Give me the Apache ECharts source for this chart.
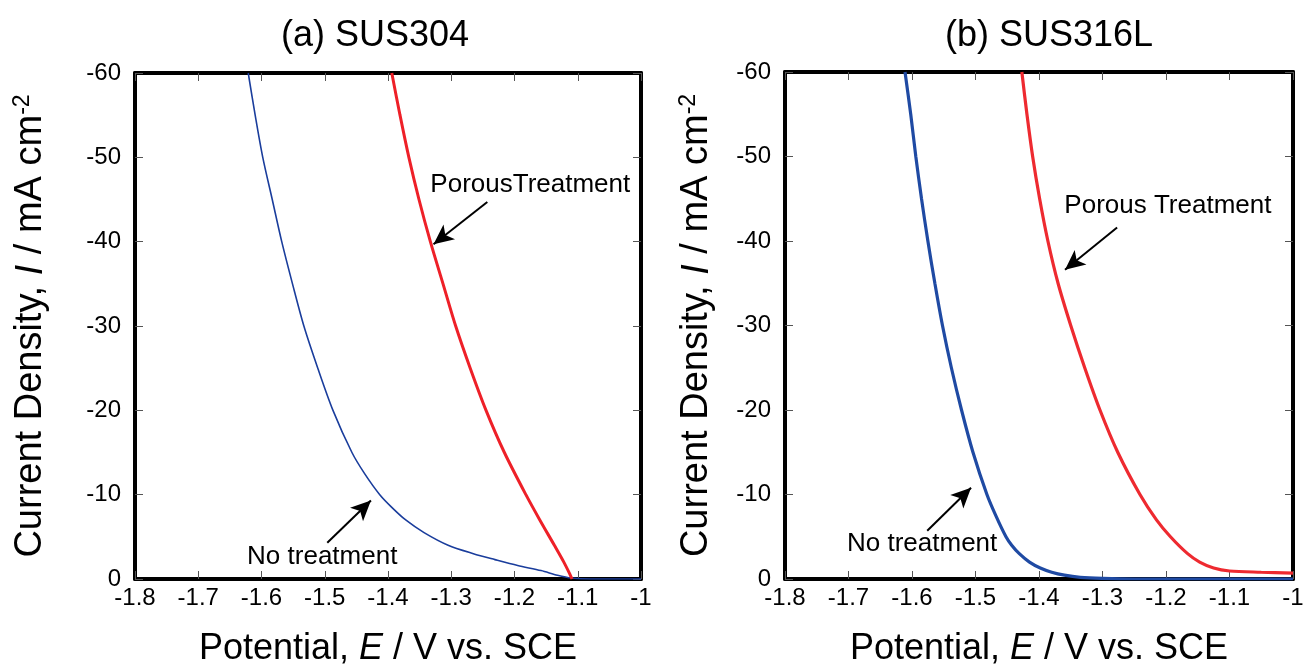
<!DOCTYPE html>
<html>
<head>
<meta charset="utf-8">
<script src="https://cdn.jsdelivr.net/npm/echarts@6/dist/echarts.min.js"></script>
<style>
  html, body { margin: 0; padding: 0; background: #fff; }
  #chart { width: 1311px; height: 668px; }
</style>
</head>
<body>
<div id="chart"></div>
<script>
// Polarization curves: [potential (V vs. SCE), current density (mA cm^-2)]
const panelTitles = ['(a) SUS304', '(b) SUS316L'];
const seriesNames = ['No treatment', 'Porous Treatment'];

// (a) SUS304
const sus304NoTreatment = [
  [-1.621, -60], [-1.610, -55], [-1.598, -50], [-1.583, -45], [-1.568, -40],
  [-1.551, -35], [-1.533, -30], [-1.511, -25], [-1.487, -20], [-1.457, -15],
  [-1.437, -12.5], [-1.413, -10], [-1.394, -8.5], [-1.372, -7], [-1.343, -5.5],
  [-1.305, -4], [-1.265, -3], [-1.231, -2.3], [-1.195, -1.6], [-1.158, -1.0],
  [-1.132, -0.45], [-1.110, -0.12], [-1.080, 0], [-1.000, 0]
];
const sus304Porous = [
  [-1.394, -60], [-1.381, -55], [-1.367, -50], [-1.351, -45], [-1.333, -40],
  [-1.313, -35], [-1.293, -30], [-1.270, -25], [-1.245, -20], [-1.216, -15],
  [-1.182, -10], [-1.160, -7], [-1.137, -4], [-1.122, -2], [-1.112, -0.5],
  [-1.109, 0]
];

// (b) SUS316L
const sus316lNoTreatment = [
  [-1.611, -60], [-1.602, -55], [-1.594, -50], [-1.585, -45], [-1.575, -40],
  [-1.564, -35], [-1.552, -30], [-1.538, -25], [-1.522, -20], [-1.504, -15],
  [-1.482, -10], [-1.468, -7.5], [-1.452, -5], [-1.443, -4], [-1.431, -3],
  [-1.415, -2], [-1.398, -1.3], [-1.380, -0.8], [-1.360, -0.45], [-1.335, -0.2],
  [-1.300, -0.07], [-1.250, 0], [-1.000, 0]
];
const sus316lPorous = [
  [-1.427, -60], [-1.419, -55], [-1.410, -50], [-1.399, -45], [-1.386, -40],
  [-1.370, -35], [-1.350, -30], [-1.328, -25], [-1.304, -20], [-1.276, -15],
  [-1.241, -10], [-1.215, -7], [-1.193, -5], [-1.166, -3], [-1.147, -2],
  [-1.125, -1.3], [-1.100, -0.95], [-1.050, -0.8], [-1.000, -0.7]
];

// Axis ranges and ticks
const potentialRange = [-1.8, -1.0];
const potentialStep = 0.1;
const currentRange = [-60, 0];
const currentStep = 10;

// Annotation arrows: [tail, head] in data coordinates, plus label anchor
const annotations = [
  { panel: 0, text: 'No treatment', label: [-1.504, -2.6], tail: [-1.496, -4.3], head: [-1.427, -9.3] },
  { panel: 0, text: 'PorousTreatment', label: [-1.175, -46.7], tail: [-1.243, -44.7], head: [-1.328, -39.7] },
  { panel: 1, text: 'No treatment', label: [-1.584, -4.15], tail: [-1.576, -5.7], head: [-1.507, -10.8] },
  { panel: 1, text: 'Porous Treatment', label: [-1.197, -44.2], tail: [-1.277, -41.6], head: [-1.359, -36.6] }
];

const FONT = '"Liberation Sans", Arial, sans-serif';
const grids = [
  { left: 135, top: 73, width: 506, height: 506 },
  { left: 785, top: 72, width: 508, height: 507 }
];

const fmtPotential = v => String(+(+v).toFixed(1));

const xAxes = [], yAxes = [];
grids.forEach((g, i) => {
  const tick = { show: true, inside: true, length: 8, lineStyle: { color: '#555', width: 1 } };
  const frame = { show: true, onZero: false, lineStyle: { color: '#000', width: 4 } };
  xAxes.push({
    type: 'value', gridIndex: i, position: 'bottom',
    min: potentialRange[0], max: potentialRange[1], interval: potentialStep,
    axisLine: frame, axisTick: tick, splitLine: { show: false },
    axisLabel: { color: '#000', fontSize: 24, fontFamily: FONT, margin: 7, formatter: fmtPotential },
    name: 'Potential, {i|E} / V vs. SCE',
    nameLocation: 'middle', nameGap: 52,
    nameTextStyle: {
      color: '#000', fontSize: 36, fontFamily: FONT,
      rich: { i: { fontSize: 36, fontStyle: 'italic', fontFamily: FONT, color: '#000' } }
    }
  });
  xAxes.push({
    type: 'value', gridIndex: i, position: 'top',
    min: potentialRange[0], max: potentialRange[1], interval: potentialStep,
    axisLine: frame, axisTick: tick, axisLabel: { show: false }, splitLine: { show: false }
  });
  yAxes.push({
    type: 'value', gridIndex: i, position: 'left', inverse: true,
    min: currentRange[0], max: currentRange[1], interval: currentStep,
    axisLine: frame, axisTick: tick, splitLine: { show: false },
    axisLabel: { color: '#000', fontSize: 24, fontFamily: FONT, margin: 14 },
    name: 'Current Density, {i|I} / mA cm{sup|-2}',
    nameLocation: 'middle', nameGap: i === 0 ? 84 : 68,
    nameTextStyle: {
      color: '#000', fontSize: 38, fontFamily: FONT,
      rich: {
        i: { fontSize: 38, fontStyle: 'italic', fontFamily: FONT, color: '#000' },
        sup: { fontSize: 23, fontFamily: FONT, color: '#000', verticalAlign: 'top', padding: [0, 0, 17, 0] }
      }
    }
  });
  yAxes.push({
    type: 'value', gridIndex: i, position: 'right', inverse: true,
    min: currentRange[0], max: currentRange[1], interval: currentStep,
    axisLine: frame, axisTick: tick, axisLabel: { show: false }, splitLine: { show: false }
  });
});

function curve(name, data, panel, color, width) {
  return {
    name, type: 'line', data,
    xAxisIndex: panel * 2, yAxisIndex: panel * 2,
    showSymbol: false, smooth: 0.3, clip: true, silent: true,
    lineStyle: { color, width }, z: 3
  };
}

const series = [
  curve(seriesNames[0], sus304NoTreatment, 0, '#1a3d9c', 1.6),
  curve(seriesNames[1], sus304Porous, 0, '#ee2028', 3),
  curve(seriesNames[0], sus316lNoTreatment, 1, '#1f4aa3', 3.2),
  curve(seriesNames[1], sus316lPorous, 1, '#ee2a30', 3.2)
];

// Arrows and their captions, anchored in data space
[0, 1].forEach(p => {
  const items = annotations.filter(a => a.panel === p);
  series.push({
    type: 'scatter', xAxisIndex: p * 2, yAxisIndex: p * 2, data: [], silent: true,
    markLine: {
      silent: true, animation: false,
      symbol: ['none', 'arrow'], symbolSize: [14, 20],
      lineStyle: { color: '#000', width: 2, type: 'solid' },
      label: { show: false },
      data: items.map(a => [{ coord: a.tail }, { coord: a.head }])
    },
    markPoint: {
      silent: true, animation: false,
      symbol: 'circle', symbolSize: 1, itemStyle: { color: 'rgba(0,0,0,0)' },
      label: { show: true, position: 'inside', color: '#000', fontSize: 26, fontFamily: FONT },
      data: items.map(a => ({ coord: a.label, label: { formatter: a.text } }))
    }
  });
});

const chart = echarts.init(document.getElementById('chart'), null, { renderer: 'canvas' });
chart.setOption({
  animation: false,
  backgroundColor: '#fff',
  title: [
    { text: panelTitles[0], left: 370, top: 13, textAlign: 'center',
      textStyle: { fontSize: 36, fontWeight: 'normal', color: '#000', fontFamily: FONT } },
    { text: panelTitles[1], left: 1044, top: 13, textAlign: 'center',
      textStyle: { fontSize: 36, fontWeight: 'normal', color: '#000', fontFamily: FONT } }
  ],
  grid: grids.map(g => Object.assign({ containLabel: false, outerBoundsMode: 'none' }, g)),
  xAxis: xAxes,
  yAxis: yAxes,
  series
});
</script>
</body>
</html>
